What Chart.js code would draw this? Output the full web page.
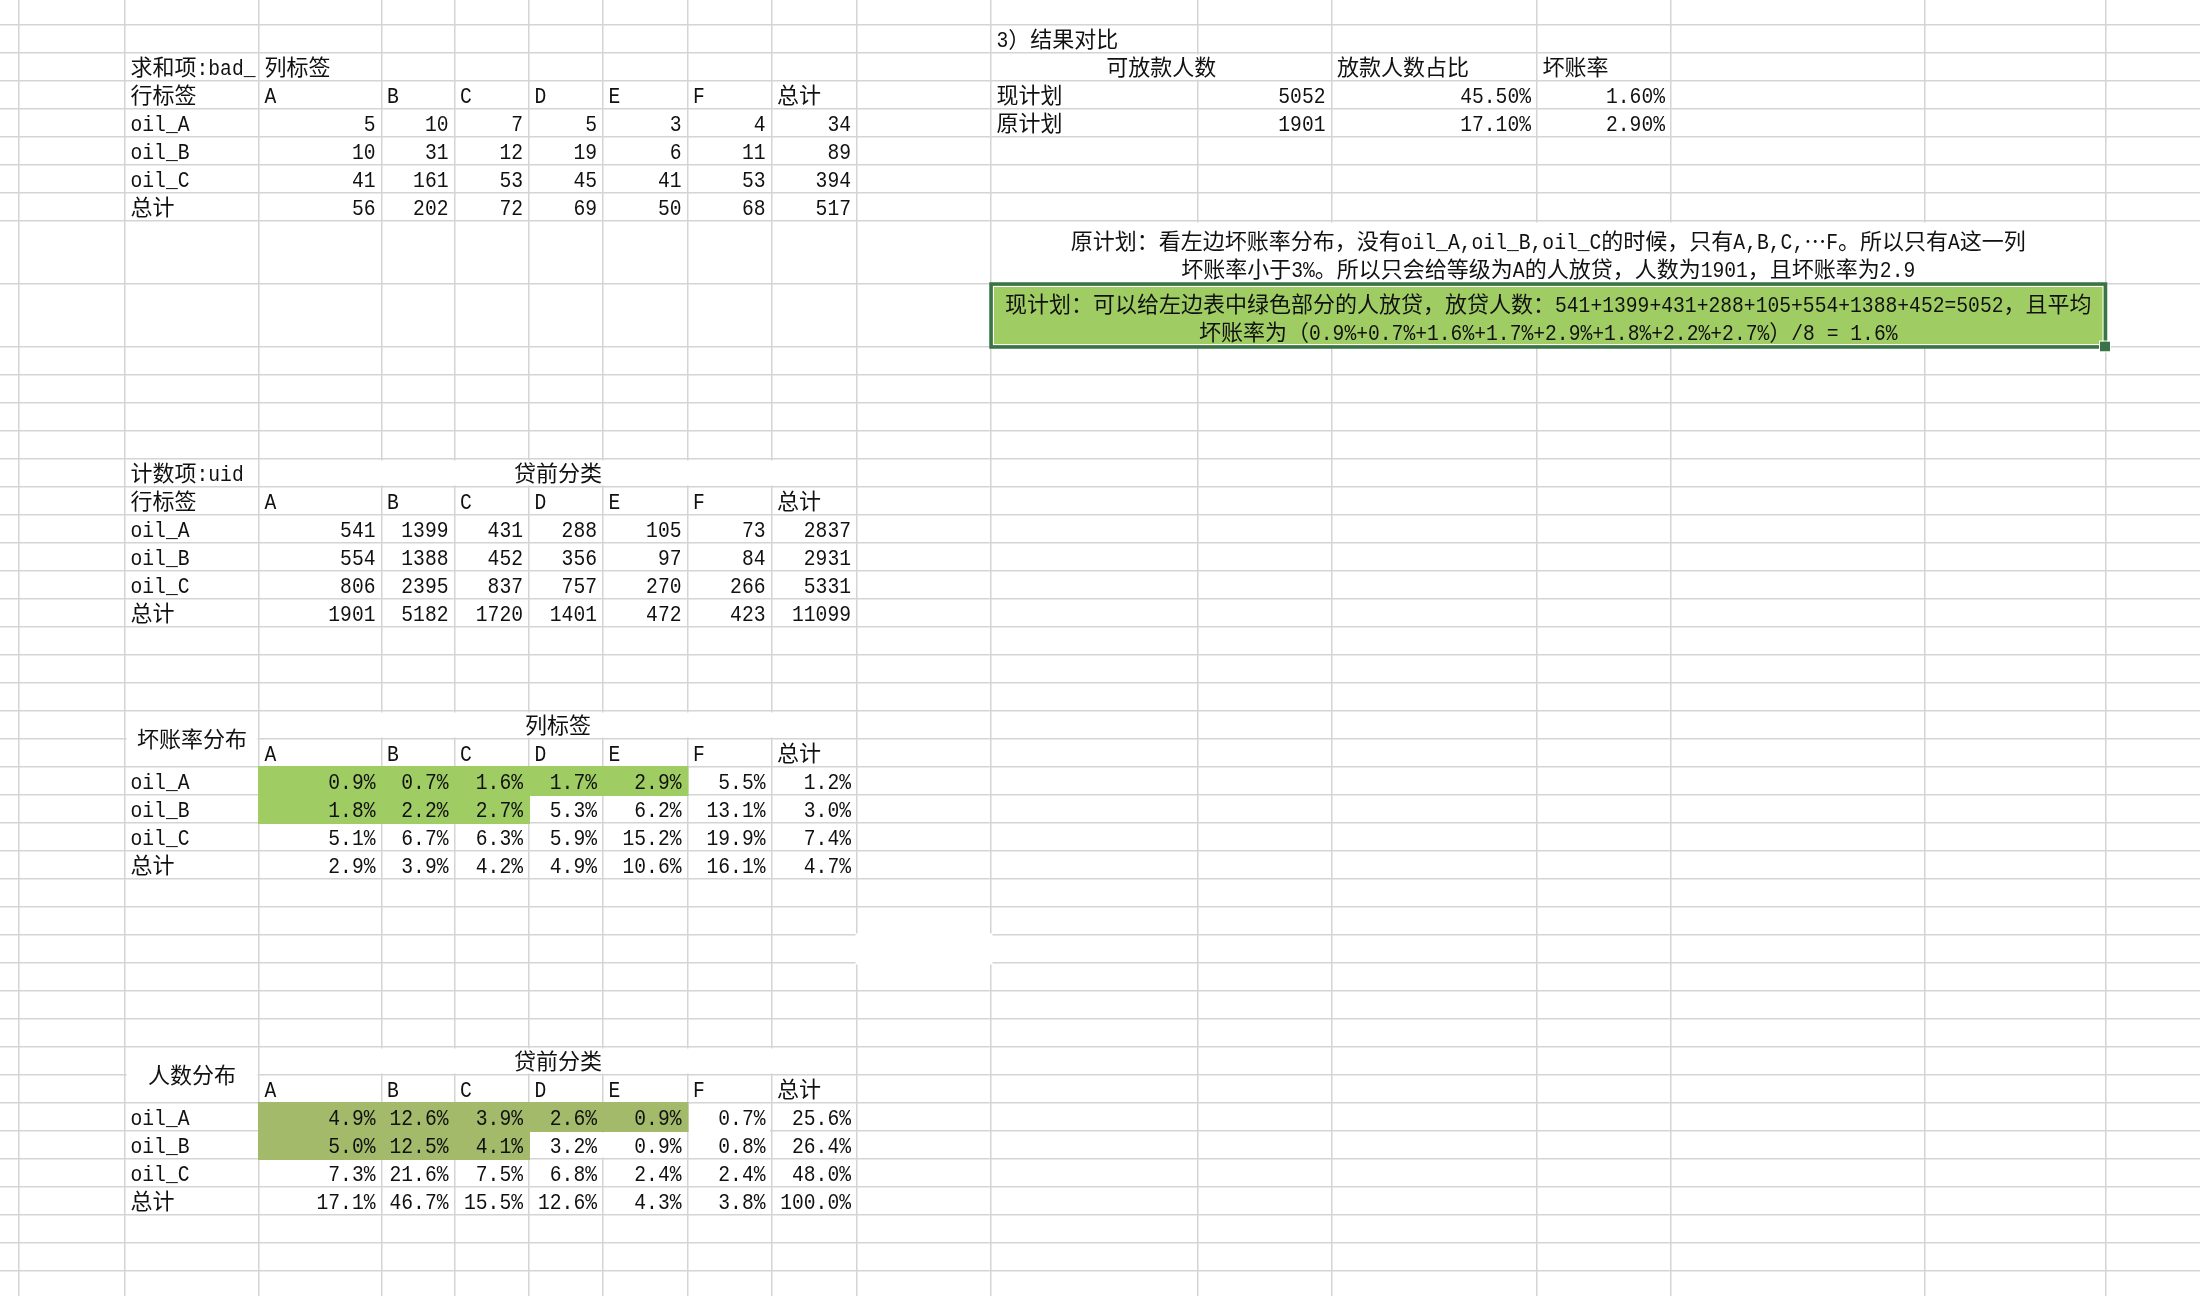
<!DOCTYPE html>
<html lang="zh-CN">
<head>
<meta charset="UTF-8">
<title>贷前分类 坏账率对比</title>
<script src="https://cdn.jsdelivr.net/npm/chart.js"></script>
<style>
  html, body { margin: 0; padding: 0; background: #fff; }
  canvas { display: block; }
</style>
</head>
<body>
<canvas id="sheet" width="2200" height="1296"></canvas>
<script>
// ---- data ----
const grades = ['A', 'B', 'C', 'D', 'E', 'F', '总计'];
const oils = ['oil_A', 'oil_B', 'oil_C', '总计'];

// 求和项:bad_
const badSum = [
    [5, 10, 7, 5, 3, 4, 34],
    [10, 31, 12, 19, 6, 11, 89],
    [41, 161, 53, 45, 41, 53, 394],
    [56, 202, 72, 69, 50, 68, 517]
];
// 计数项:uid
const uidCount = [
    [541, 1399, 431, 288, 105, 73, 2837],
    [554, 1388, 452, 356, 97, 84, 2931],
    [806, 2395, 837, 757, 270, 266, 5331],
    [1901, 5182, 1720, 1401, 472, 423, 11099]
];
// 坏账率分布 (%)
const badRate = [
    [0.9, 0.7, 1.6, 1.7, 2.9, 5.5, 1.2],
    [1.8, 2.2, 2.7, 5.3, 6.2, 13.1, 3.0],
    [5.1, 6.7, 6.3, 5.9, 15.2, 19.9, 7.4],
    [2.9, 3.9, 4.2, 4.9, 10.6, 16.1, 4.7]
];
// 人数分布 (%)
const userShare = [
    [4.9, 12.6, 3.9, 2.6, 0.9, 0.7, 25.6],
    [5.0, 12.5, 4.1, 3.2, 0.9, 0.8, 26.4],
    [7.3, 21.6, 7.5, 6.8, 2.4, 2.4, 48.0],
    [17.1, 46.7, 15.5, 12.6, 4.3, 3.8, 100.0]
];
// 绿色部分: oil_A 取 A..E, oil_B 取 A..C
const pickedPerRow = [5, 3];

// 3) 结果对比
const planHeaders = ['可放款人数', '放款人数占比', '坏账率'];
const planNames = ['现计划', '原计划'];
const planCount = [5052, 1901];
const planShare = [45.5, 17.1];
const planBadRate = [1.6, 2.9];

const noteOld = [
    '原计划：看左边坏账率分布，没有oil_A,oil_B,oil_C的时候，只有A,B,C,…F。所以只有A这一列',
    '坏账率小于3%。所以只会给等级为A的人放贷，人数为1901，且坏账率为2.9'
];
const noteNew = [
    '现计划：可以给左边表中绿色部分的人放贷，放贷人数：541+1399+431+288+105+554+1388+452=5052，且平均',
    '坏账率为（0.9%+0.7%+1.6%+1.7%+2.9%+1.8%+2.2%+2.7%）/8 = 1.6%'
];

// ---- sheet layout (px) ----
const colEdges = [-80, 19, 125, 259, 381.5, 454.5, 529, 603, 687.5, 771.5, 857, 991, 1198, 1331.5, 1537, 1671, 1925, 2105.5, 2300];
const rowEdges = [-3];
for (let i = 0; i < 46; i++) {
    rowEdges.push(rowEdges[i] + ((i === 8 || i === 9) ? 63 : 28));
}

const GRID = '#d4d4d4';
const GREEN = '#a0cd63';
const OLIVE = '#a3ba6a';
const BOX = '#3b7349';
const FONT_CJK = "22px 'Noto Sans CJK SC'";
const FONT_LAT = "22px 'Liberation Mono'";
const LAT_SQUEEZE = 0.894; // half-width latin like the sheet font

// ---- cells ----
const cells = [];
function put(c, r, text, align, c2, r2, lineY) {
    c2 = c2 === undefined ? c : c2;
    r2 = r2 === undefined ? r : r2;
    let x;
    if (align === 'right') x = colEdges[c2 + 1] - 6;
    else if (align === 'center') x = (colEdges[c] + colEdges[c2 + 1]) / 2;
    else x = colEdges[c] + 5.5;
    let y;
    if (lineY !== undefined) y = lineY;
    else if (r2 > r) y = (rowEdges[r] + rowEdges[r2 + 1]) / 2 + 8;
    else y = rowEdges[r + 1] - 6;
    cells.push({ x: x, y: y, text: String(text), align: align || 'left' });
}

function pivotBody(r0, values, fmt) {
    oils.forEach((name, i) => {
        put(2, r0 + i, name);
        values[i].forEach((v, j) => put(3 + j, r0 + i, fmt(v), 'right'));
    });
}
const pct1 = v => v.toFixed(1) + '%';

// 求和项:bad_
put(2, 2, '求和项:bad_');
put(3, 2, '列标签');
put(2, 3, '行标签');
grades.forEach((g, j) => put(3 + j, 3, g));
pivotBody(4, badSum, v => v);

// 计数项:uid
put(2, 14, '计数项:uid');
put(3, 14, '贷前分类', 'center', 9);
put(2, 15, '行标签');
grades.forEach((g, j) => put(3 + j, 15, g));
pivotBody(16, uidCount, v => v);

// 坏账率分布
put(2, 23, '坏账率分布', 'center', 2, 24);
put(3, 23, '列标签', 'center', 9);
grades.forEach((g, j) => put(3 + j, 24, g));
pivotBody(25, badRate, pct1);

// 人数分布
put(2, 35, '人数分布', 'center', 2, 36);
put(3, 35, '贷前分类', 'center', 9);
grades.forEach((g, j) => put(3 + j, 36, g));
pivotBody(37, userShare, pct1);

// 结果对比
put(11, 1, '3）结果对比');
put(11, 2, planHeaders[0], 'center', 12);
put(13, 2, planHeaders[1]);
put(14, 2, planHeaders[2]);
planNames.forEach((n, i) => {
    put(11, 3 + i, n);
    put(12, 3 + i, planCount[i], 'right');
    put(13, 3 + i, planShare[i].toFixed(2) + '%', 'right');
    put(14, 3 + i, planBadRate[i].toFixed(2) + '%', 'right');
});
noteOld.forEach((t, i) => put(11, 8, t, 'center', 16, 8, rowEdges[9] - 7 - (noteOld.length - 1 - i) * 28));
noteNew.forEach((t, i) => put(11, 9, t, 'center', 16, 9, rowEdges[10] - 7 - (noteNew.length - 1 - i) * 28));

// merged / blanked areas [c1, r1, c2, r2]
const merged = [
    [11, 2, 12, 2], [11, 8, 16, 8], [3, 14, 9, 14],
    [2, 23, 2, 24], [3, 23, 9, 23], [2, 35, 2, 36], [3, 35, 9, 35],
    [6, 38, 7, 38], [8, 37, 8, 38]
];
const gaps = [[10, 31, 10, 31]];

// ---- text drawing with CJK / latin runs ----
const CJK = /[\u2026\u3000-\u303f\u3400-\u9fff\uff00-\uffef]/;
function drawMixed(ctx, text, x, y, align) {
    const parts = [];
    for (const ch of text) {
        const cjk = CJK.test(ch);
        const last = parts[parts.length - 1];
        if (last && last.cjk === cjk) last.s += ch;
        else parts.push({ cjk: cjk, s: ch });
    }
    let w = 0;
    parts.forEach(p => {
        ctx.font = p.cjk ? FONT_CJK : FONT_LAT;
        p.w = ctx.measureText(p.s).width * (p.cjk ? 1 : LAT_SQUEEZE);
        w += p.w;
    });
    let sx = align === 'right' ? x - w : align === 'center' ? x - w / 2 : x;
    parts.forEach(p => {
        ctx.font = p.cjk ? FONT_CJK : FONT_LAT;
        if (p.cjk) {
            ctx.fillText(p.s, sx, y);
        } else {
            ctx.save();
            ctx.translate(sx, y);
            ctx.scale(LAT_SQUEEZE, 1);
            ctx.fillText(p.s, 0, 0);
            ctx.restore();
        }
        sx += p.w;
    });
}

function rectOf(chart, c1, r1, c2, r2) {
    const xs = chart.scales.x, ys = chart.scales.y;
    const x1 = xs.getPixelForValue(colEdges[c1]);
    const x2 = xs.getPixelForValue(colEdges[c2 + 1]);
    const y1 = ys.getPixelForValue(rowEdges[r1]);
    const y2 = ys.getPixelForValue(rowEdges[r2 + 1]);
    return { x: x1, y: y1, w: x2 - x1, h: y2 - y1 };
}

const sheetFills = {
    id: 'sheetFills',
    beforeDatasetsDraw(chart) {
        const ctx = chart.ctx;
        ctx.save();
        ctx.fillStyle = '#fff';
        merged.forEach(m => {
            const r = rectOf(chart, m[0], m[1], m[2], m[3]);
            ctx.fillRect(r.x + 1.5, r.y + 1.5, r.w - 3, r.h - 3);
        });
        gaps.forEach(m => {
            const r = rectOf(chart, m[0], m[1], m[2], m[3]);
            ctx.fillRect(r.x - 1.5, r.y - 1.5, r.w + 3, r.h + 3);
        });
        // green picks
        [[25, GREEN], [37, OLIVE]].forEach(([r0, col]) => {
            ctx.fillStyle = col;
            pickedPerRow.forEach((n, i) => {
                const r = rectOf(chart, 3, r0 + i, 3 + n - 1, r0 + i);
                ctx.fillRect(r.x - 1, r.y - 1, r.w + 2, r.h + 2);
            });
        });
        // selected note box
        const b = rectOf(chart, 11, 9, 16, 9);
        ctx.fillStyle = GREEN;
        ctx.fillRect(b.x, b.y, b.w, b.h);
        ctx.strokeStyle = '#fff';
        ctx.lineWidth = 1;
        ctx.strokeRect(b.x + 2.5, b.y + 2.5, b.w - 5, b.h - 5);
        ctx.strokeStyle = BOX;
        ctx.lineWidth = 3.5;
        ctx.strokeRect(b.x, b.y, b.w, b.h);
        ctx.fillStyle = BOX;
        ctx.fillRect(b.x + b.w - 5.5, b.y + b.h - 5.5, 10, 10);
        ctx.strokeStyle = '#fff';
        ctx.lineWidth = 1;
        ctx.strokeRect(b.x + b.w - 6, b.y + b.h - 6, 11, 11);
        ctx.restore();
    }
};

const sheetText = {
    id: 'sheetText',
    afterDatasetsDraw(chart) {
        const ctx = chart.ctx;
        const ds = chart.data.datasets[0];
        ctx.save();
        ctx.fillStyle = '#111';
        ctx.textAlign = 'left';
        ctx.textBaseline = 'alphabetic';
        chart.getDatasetMeta(0).data.forEach((el, i) => {
            const cell = ds.data[i];
            drawMixed(ctx, cell.text, el.x, el.y, cell.align);
        });
        ctx.restore();
    }
};

function edgeTicks(edges, max) {
    return scale => {
        scale.ticks = edges.filter(v => v > 0 && v < max).map(v => ({ value: v }));
    };
}

function build() {
    new Chart(document.getElementById('sheet'), {
        type: 'scatter',
        data: {
            datasets: [{
                label: 'cells',
                data: cells,
                pointRadius: 0,
                pointHoverRadius: 0
            }]
        },
        options: {
            responsive: false,
            animation: false,
            events: [],
            layout: { padding: 0 },
            plugins: {
                legend: { display: false },
                tooltip: { enabled: false }
            },
            scales: {
                x: {
                    type: 'linear',
                    min: 0,
                    max: 2200,
                    afterBuildTicks: edgeTicks(colEdges, 2200),
                    ticks: { display: false },
                    border: { display: false },
                    grid: { color: GRID, lineWidth: 1.5, drawTicks: false }
                },
                y: {
                    type: 'linear',
                    reverse: true,
                    min: 0,
                    max: 1296,
                    afterBuildTicks: edgeTicks(rowEdges, 1296),
                    ticks: { display: false },
                    border: { display: false },
                    grid: { color: GRID, lineWidth: 1.5, drawTicks: false }
                }
            }
        },
        plugins: [sheetFills, sheetText]
    });
}

Promise.all([
    document.fonts.load(FONT_CJK, '中'),
    document.fonts.load(FONT_LAT, 'A')
]).then(build, build);
</script>
</body>
</html>
